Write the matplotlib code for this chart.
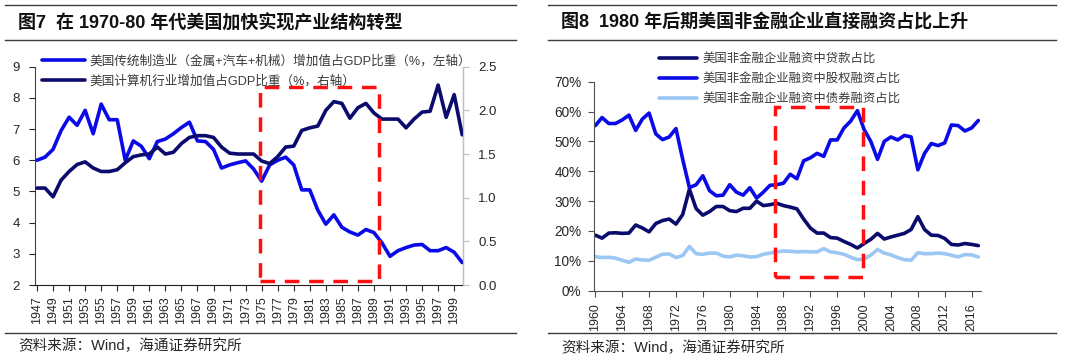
import matplotlib
matplotlib.use('Agg')
import matplotlib.pyplot as plt
from matplotlib.lines import Line2D
from matplotlib.patches import Rectangle
from matplotlib.ticker import FuncFormatter

plt.rcParams['font.family'] = ['Liberation Sans', 'Noto Sans CJK SC']

# ---- 图7 data (1947-2000) ----
years7 = list(range(1947, 2001))
manuf = [6.0, 6.1, 6.35, 6.95, 7.38, 7.12, 7.6, 6.85, 7.8, 7.3,
         7.3, 6.0, 6.62, 6.45, 6.05, 6.6, 6.68, 6.85, 7.05, 7.22,
         6.62, 6.6, 6.35, 5.75, 5.85, 5.92, 5.98, 5.72, 5.33, 5.85,
         6.0, 6.1, 5.85, 5.05, 5.05, 4.4, 3.95, 4.25, 3.85, 3.7,
         3.6, 3.78, 3.68, 3.35, 2.92, 3.1, 3.2, 3.28, 3.3, 3.1,
         3.1, 3.2, 3.05, 2.72]
computer = [1.11, 1.11, 1.01, 1.2, 1.3, 1.38, 1.41, 1.34, 1.30, 1.30,
            1.32, 1.40, 1.47, 1.49, 1.50, 1.58, 1.50, 1.52, 1.62, 1.69,
            1.71, 1.71, 1.69, 1.58, 1.51, 1.50, 1.50, 1.50, 1.42, 1.39,
            1.47, 1.58, 1.59, 1.77, 1.80, 1.82, 2.0, 2.1, 2.08, 1.91,
            2.03, 2.08, 1.97, 1.90, 1.90, 1.90, 1.80, 1.90, 1.98, 1.99,
            2.29, 1.92, 2.18, 1.72]
xticks7 = list(range(1947, 2000, 2))
box7_years = [1974.85, 1989.6]
box7_vals = [2.13, 8.34]
label_manuf = '美国传统制造业（金属+汽车+机械）增加值占GDP比重（%，左轴）'
label_comp = '美国计算机行业增加值占GDP比重（%，右轴）'

# ---- 图8 data (1960-2017) ----
years8 = list(range(1960, 2018))
loans = [18.6, 17.6, 19.3, 19.4, 19.2, 19.3, 22.0, 21.0, 19.7, 22.5,
         23.5, 24.0, 22.3, 25.5, 34.0, 27.5, 25.3, 26.5, 28.2, 28.2,
         26.8, 26.5, 27.6, 27.6, 30.0, 28.5, 28.8, 29.3, 28.5, 28.0,
         27.4, 24.0, 21.0, 19.3, 19.3, 17.8, 17.6, 16.5, 15.5, 14.3,
         15.8, 17.2, 19.2, 17.3, 18.0, 18.6, 19.2, 20.5, 24.8, 20.5,
         18.6, 18.5, 17.5, 15.5, 15.3, 15.8, 15.5, 15.1]
equity = [55.3, 58.0, 56.0, 56.0, 57.2, 58.8, 53.7, 57.5, 59.5, 52.5,
          50.6, 51.5, 54.3, 44.0, 34.5, 35.5, 38.5, 33.5, 31.8, 32.0,
          35.5, 33.0, 32.0, 34.5, 31.0, 33.0, 35.3, 35.5, 36.0, 39.0,
          37.5, 43.5, 44.5, 46.0, 45.0, 50.5, 50.5, 54.5, 56.8, 60.3,
          54.0, 50.0, 44.0, 50.0, 51.5, 50.5, 52.0, 51.5, 40.5, 46.0,
          49.3, 48.6, 49.5, 55.5, 55.3, 53.5, 54.5, 57.0]
bonds = [11.4, 11.1, 11.2, 10.9, 10.2, 9.5, 10.6, 10.3, 10.2, 11.2,
         12.2, 12.3, 11.1, 11.8, 14.8, 12.4, 12.2, 12.6, 12.6, 11.6,
         11.3, 11.9, 11.7, 11.3, 11.4, 12.2, 12.6, 13.0, 13.3, 13.2,
         13.0, 13.1, 13.0, 13.0, 14.1, 13.0, 12.7, 12.2, 11.2, 10.4,
         10.6, 11.9, 13.8, 12.6, 12.0, 11.1, 10.4, 10.2, 12.7, 12.4,
         12.4, 12.6, 12.4, 11.9, 11.3, 12.1, 12.0, 11.3]
xticks8 = list(range(1960, 2017, 4))
box8_years = [1986.8, 1999.9]
box8_vals = [4.5, 61.5]
label_loans = '美国非金融企业融资中贷款占比'
label_equity = '美国非金融企业融资中股权融资占比'
label_bonds = '美国非金融企业融资中债券融资占比'

BLUE = '#0a0ae8'
NAVY = '#0b0b6e'
LIGHT = '#9cc7f2'
TXT = '#262626'

W, H = 1080, 362
def fx(px): return px / W
def fy(py): return 1 - py / H

fig = plt.figure(figsize=(10.8, 3.62), dpi=100)

# title bars / frame lines
for x0, x1 in [(5, 516), (548, 1056)]:
    for yy in (5, 40, 333):
        fig.add_artist(Line2D([fx(x0), fx(x1)], [fy(yy), fy(yy)], color='#3c3c3c', lw=1.0))
fig.text(fx(18), fy(23), '图7  在 1970-80 年代美国加快实现产业结构转型', fontsize=13,
         fontweight='bold', va='center', ha='left', color='#111111')
fig.text(fx(561), fy(23), '图8  1980 年后期美国非金融企业直接融资占比上升', fontsize=13,
         fontweight='bold', va='center', ha='left', color='#111111')
fig.text(fx(18), fy(346), '资料来源：Wind，海通证券研究所', fontsize=10.5, va='center', color=TXT)
fig.text(fx(561), fy(348), '资料来源：Wind，海通证券研究所', fontsize=10.5, va='center', color=TXT)

# ---------------- chart 7 ----------------
ax = fig.add_axes([fx(35), fy(285), fx(463) - fx(35), fy(66.7) - fy(285)])
ax2 = ax.twinx()
l1, = ax.plot(years7, manuf, color=BLUE, lw=2.6, solid_joinstyle='round', solid_capstyle='round')
l2, = ax2.plot(years7, computer, color=NAVY, lw=2.6, solid_joinstyle='round', solid_capstyle='round')
ax.set_xlim(1946.75, 2000.1)
ax.set_ylim(2, 9)
ax2.set_ylim(0, 2.5)
ax.set_yticks(range(2, 10))
ax2.set_yticks([0, 0.5, 1.0, 1.5, 2.0, 2.5])
ax2.yaxis.set_major_formatter(FuncFormatter(lambda v, p: '%.1f' % v))
ax.set_xticks(xticks7)
ax.set_xticklabels([str(y) for y in xticks7], rotation=90, fontsize=8.9, color=TXT)
for a in (ax, ax2):
    a.spines['top'].set_visible(False)
ax.spines['left'].set_color('#404040')
ax.spines['bottom'].set_color('#202020')
ax2.spines['right'].set_color('#bfbfbf')
ax2.spines['left'].set_visible(False)
ax2.spines['bottom'].set_visible(False)
ax.tick_params(axis='y', length=4, pad=7, labelsize=9.5, colors=TXT)
ax.tick_params(axis='x', length=4, pad=4, colors=TXT)
ax2.tick_params(axis='y', length=4, pad=7, labelsize=9.5, colors=TXT)
ax2.tick_params(axis='y', color='#bfbfbf')
ax2.add_patch(Rectangle((box7_years[0], box7_vals[0]), box7_years[1] - box7_years[0],
                        box7_vals[1] - box7_vals[0], transform=ax.transData, fill=False,
                        edgecolor='#ff1010', lw=2.5, ls=(0, (4.2, 2.8)), zorder=5, clip_on=False))
ax2.legend([l1, l2], [label_manuf, label_comp], loc='upper left',
           bbox_to_anchor=(fx(42), fy(55)), bbox_transform=fig.transFigure,
           frameon=False, fontsize=9.1, handlelength=3.4, handletextpad=0.35,
           labelspacing=0.6, borderpad=0, borderaxespad=0, labelcolor='#3a3a3a')

# ---------------- chart 8 ----------------
bx = fig.add_axes([fx(594), fy(290.7), fx(981) - fx(594), fy(81.7) - fy(290.7)])
m1, = bx.plot(years8, loans, color=NAVY, lw=2.6, solid_joinstyle='round', solid_capstyle='round')
m2, = bx.plot(years8, equity, color=BLUE, lw=2.6, solid_joinstyle='round', solid_capstyle='round')
m3, = bx.plot(years8, bonds, color=LIGHT, lw=2.6, solid_joinstyle='round', solid_capstyle='round')
bx.set_xlim(1959.8, 2017.4)
bx.set_ylim(0, 70)
bx.set_yticks(range(0, 71, 10))
bx.yaxis.set_major_formatter(FuncFormatter(lambda v, p: '%d%%' % v))
bx.set_xticks(xticks8)
bx.set_xticklabels([str(y) for y in xticks8], rotation=90, fontsize=8.9, color=TXT)
bx.spines['top'].set_visible(False)
bx.spines['right'].set_visible(False)
bx.spines['left'].set_color('#505050')
bx.spines['bottom'].set_color('#505050')
bx.tick_params(axis='y', length=4, pad=5, labelsize=9.8, colors=TXT)
bx.tick_params(axis='x', length=4, pad=5, colors=TXT)
bx.tick_params(color='#505050')
bx.add_patch(Rectangle((box8_years[0], box8_vals[0]), box8_years[1] - box8_years[0],
                       box8_vals[1] - box8_vals[0], fill=False, edgecolor='#ff1010',
                       lw=2.5, ls=(0, (4.2, 2.8)), zorder=5))
bx.legend([m1, m2, m3], [label_loans, label_equity, label_bonds], loc='upper left',
          bbox_to_anchor=(fx(659), fy(53)), bbox_transform=fig.transFigure,
          frameon=False, fontsize=8.9, handlelength=3.1, handletextpad=0.45,
          labelspacing=0.65, borderpad=0, borderaxespad=0, labelcolor='#3a3a3a')

fig.savefig('out.png', dpi=100)
